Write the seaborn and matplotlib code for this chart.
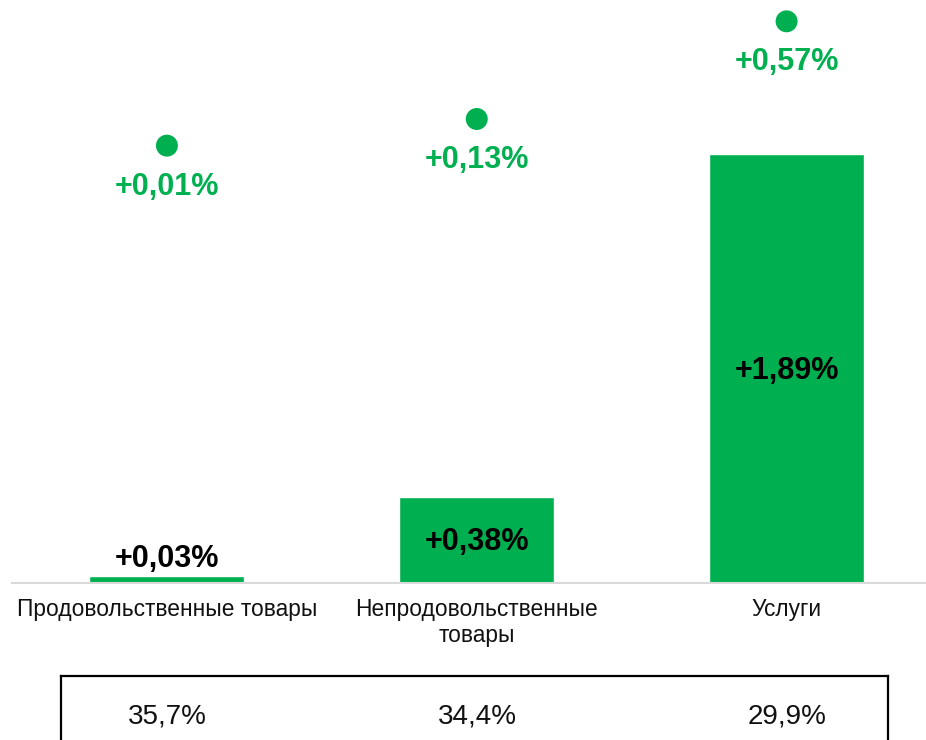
import matplotlib
matplotlib.use("Agg")
import matplotlib.pyplot as plt
import numpy as np
import seaborn as sns

# Data
categories = ["Продовольственные товары", "Непродовольственные\nтовары", "Услуги"]
bar_values = [0.03, 0.38, 1.89]
bar_labels = ["+0,03%", "+0,38%", "+1,89%"]
dot_values = [0.01, 0.13, 0.57]
dot_labels = ["+0,01%", "+0,13%", "+0,57%"]
shares = ["35,7%", "34,4%", "29,9%"]

green = "#00B050"

sns.set_style("white")
plt.rcParams["font.family"] = ["Liberation Sans", "DejaVu Sans"]

W, H = 926, 740
fig = plt.figure(figsize=(W / 100, H / 100), dpi=100)

# main bar axes: baseline at y=583 px, spans full height above it
ax = fig.add_axes([12 / W, (H - 583) / H, (W - 12) / W, 583 / H])
pos = np.arange(len(categories))
sns.barplot(x=pos, y=bar_values, color=green, saturation=1, width=0.5,
            ax=ax, native_scale=True)
ax.set_ylim(0, 2.568)
ax.set_xlim(-0.5, 2.45)

for x, v, lab in zip(pos, bar_values, bar_labels):
    if v < 0.1:
        ax.annotate(lab, (x, v), xytext=(0, 12.5), textcoords="offset points",
                    ha="center", va="center", fontsize=22, fontweight="bold",
                    color="black")
    else:
        ax.annotate(lab, (x, v / 2), xytext=(0, -1.5), textcoords="offset points",
                    ha="center", va="center", fontsize=22, fontweight="bold",
                    color="black")

ax.set_xticks(pos)
ax.set_xticklabels(categories, fontsize=16.4, color="#111111", linespacing=1.15)
ax.tick_params(axis="x", length=0, pad=11)
ax.set_yticks([])
ax.set_xlabel("")
ax.set_ylabel("")
for s in ["top", "left", "right"]:
    ax.spines[s].set_visible(False)
ax.spines["bottom"].set_color("#d9d9d9")
ax.spines["bottom"].set_linewidth(1.5)

# contributions (dots) on their own scale
ax2 = ax.twinx()
sns.scatterplot(x=pos, y=dot_values, color=green, s=250, edgecolor="none",
                ax=ax2, legend=False)
ax2.set_ylim(-1.96, 0.666)
for x, v, lab in zip(pos, dot_values, dot_labels):
    ax2.annotate(lab, (x, v), xytext=(0, -29.5), textcoords="offset points",
                 ha="center", va="center", fontsize=22, fontweight="bold",
                 color=green)
ax2.set_yticks([])
ax2.set_ylabel("")
for s in ax2.spines.values():
    s.set_visible(False)
ax.set_xlim(-0.5, 2.45)

# weights box at the bottom
axt = fig.add_axes([61 / W, -0.05, (888 - 61) / W, 0.05 + (H - 676) / H])
axt.set_xlim((61 - 12) / 310 - 0.5, (888 - 12) / 310 - 0.5)
axt.set_ylim(0, 1)
axt.set_xticks([])
axt.set_yticks([])
for s in axt.spines.values():
    s.set_color("black")
    s.set_linewidth(1.6)
for x, t in zip(pos, shares):
    axt.text(x, 0.6, t, ha="center", va="center", fontsize=20, color="#111111")

fig.savefig("out.png", dpi=100)
